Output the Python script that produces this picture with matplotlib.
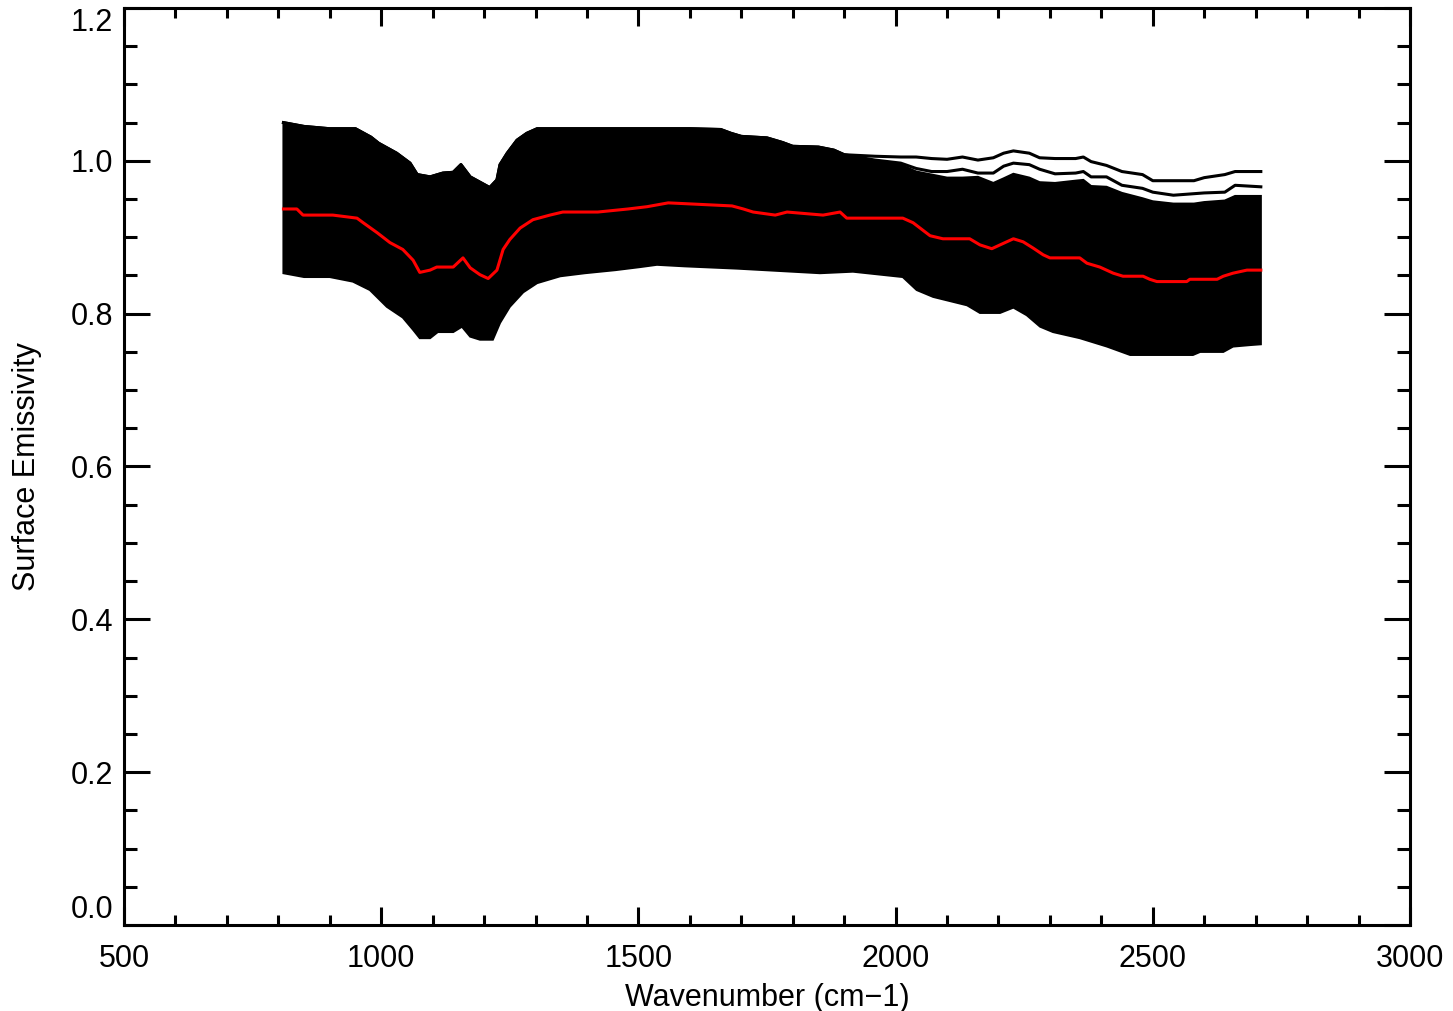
import numpy as np
import matplotlib
matplotlib.use('Agg')
import matplotlib.pyplot as plt

plt.rcParams['font.family'] = ['Liberation Sans', 'DejaVu Sans']

# upper envelope: outermost curve, next curve, top of the solid band
wn_up = [810, 850, 900, 950, 980, 995, 1030, 1056, 1070, 1095, 1120, 1140, 1155,
         1173, 1192, 1211, 1225, 1231, 1245, 1264, 1283, 1303, 1400, 1500, 1600,
         1660, 1680, 1700, 1750, 1780, 1800, 1850, 1880, 1900, 1960, 2010, 2040,
         2070, 2100, 2130, 2160, 2190, 2210, 2229, 2260, 2280, 2310, 2350, 2365,
         2380, 2410, 2440, 2480, 2500, 2540, 2580, 2600, 2640, 2660, 2710]
top1 = [1.050, 1.045, 1.042, 1.042, 1.031, 1.023, 1.010, 0.997, 0.982, 0.979, 0.984,
        0.985, 0.995, 0.979, 0.972, 0.965, 0.975, 0.995, 1.010, 1.027, 1.036, 1.042,
        1.042, 1.042, 1.042, 1.041, 1.036, 1.032, 1.030, 1.024, 1.019, 1.018, 1.014,
        1.008, 1.006, 1.005, 1.005, 1.003, 1.002, 1.005, 1.001, 1.004, 1.010, 1.013,
        1.010, 1.004, 1.003, 1.003, 1.005, 0.999, 0.994, 0.986, 0.982, 0.974, 0.974,
        0.974, 0.978, 0.982, 0.986, 0.986]
top2 = [1.050, 1.045, 1.042, 1.042, 1.031, 1.023, 1.010, 0.997, 0.982, 0.979, 0.984,
        0.985, 0.995, 0.979, 0.972, 0.965, 0.975, 0.995, 1.010, 1.027, 1.036, 1.042,
        1.042, 1.042, 1.042, 1.041, 1.036, 1.032, 1.030, 1.024, 1.019, 1.018, 1.014,
        1.008, 1.001, 0.997, 0.990, 0.986, 0.986, 0.989, 0.984, 0.984, 0.993, 0.997,
        0.995, 0.989, 0.983, 0.984, 0.986, 0.979, 0.979, 0.968, 0.964, 0.959, 0.955,
        0.957, 0.958, 0.959, 0.968, 0.966]
band_top = [1.050, 1.045, 1.042, 1.042, 1.031, 1.023, 1.010, 0.997, 0.982, 0.979, 0.984,
            0.985, 0.995, 0.979, 0.972, 0.965, 0.975, 0.995, 1.010, 1.027, 1.036, 1.042,
            1.042, 1.042, 1.042, 1.041, 1.036, 1.032, 1.030, 1.024, 1.019, 1.018, 1.014,
            1.008, 0.999, 0.995, 0.986, 0.982, 0.978, 0.978, 0.979, 0.971, 0.977, 0.983,
            0.978, 0.972, 0.971, 0.974, 0.975, 0.967, 0.966, 0.958, 0.951, 0.947, 0.944,
            0.944, 0.946, 0.948, 0.954, 0.954]

# lower envelope
wn_lo = [810, 850, 900, 945, 978, 1011, 1042, 1062, 1075, 1095, 1110, 1140, 1157,
         1173, 1192, 1217, 1231, 1250, 1276, 1303, 1348, 1396, 1455, 1503, 1536,
         1590, 1692, 1853, 1917, 2014, 2041, 2073, 2139, 2164, 2203, 2229, 2255,
         2281, 2306, 2358, 2411, 2456, 2578, 2592, 2637, 2656, 2690, 2710]
lower = [0.853, 0.848, 0.848, 0.842, 0.831, 0.809, 0.795, 0.779, 0.768, 0.768, 0.776,
         0.776, 0.783, 0.770, 0.766, 0.766, 0.788, 0.809, 0.828, 0.840, 0.849, 0.853,
         0.857, 0.861, 0.864, 0.862, 0.859, 0.853, 0.855, 0.848, 0.831, 0.822, 0.811,
         0.801, 0.801, 0.808, 0.798, 0.783, 0.776, 0.768, 0.757, 0.746, 0.746, 0.750,
         0.750, 0.757, 0.759, 0.760]

# mean emissivity (red)
wn_mean = [810, 836, 848, 906, 953, 965, 992, 1017, 1042, 1062, 1075, 1095, 1108,
           1140, 1159, 1173, 1192, 1208, 1225, 1237, 1250, 1270, 1295, 1328, 1353,
           1421, 1480, 1517, 1558, 1682, 1704, 1723, 1766, 1789, 1859, 1892, 1905,
           2014, 2034, 2067, 2092, 2144, 2164, 2187, 2203, 2229, 2248, 2267, 2287,
           2300, 2358, 2372, 2397, 2423, 2442, 2481, 2494, 2508, 2566, 2572, 2625,
           2637, 2656, 2683, 2710]
mean = [0.937, 0.937, 0.929, 0.929, 0.925, 0.919, 0.906, 0.893, 0.884, 0.870, 0.854,
        0.857, 0.861, 0.861, 0.873, 0.860, 0.851, 0.846, 0.857, 0.884, 0.897, 0.912,
        0.923, 0.929, 0.933, 0.933, 0.937, 0.940, 0.945, 0.941, 0.937, 0.933, 0.929,
        0.933, 0.929, 0.933, 0.925, 0.925, 0.919, 0.902, 0.898, 0.898, 0.890, 0.885,
        0.890, 0.898, 0.894, 0.886, 0.877, 0.873, 0.873, 0.866, 0.861, 0.853, 0.849,
        0.849, 0.845, 0.842, 0.842, 0.845, 0.845, 0.849, 0.853, 0.857, 0.857]

fig = plt.figure(figsize=(14.53, 10.11), dpi=100)
ax = fig.add_axes([124 / 1453, 1 - 925 / 1011, 1286 / 1453, 917 / 1011])

# solid band of the ensemble
poly_x = np.r_[wn_up, wn_lo[::-1]]
poly_y = np.r_[band_top, lower[::-1]]
ax.fill(poly_x, poly_y, color='black', lw=1.5, zorder=2)
ax.plot(wn_up, top1, color='black', lw=2.2, zorder=3)
ax.plot(wn_up, top2, color='black', lw=2.2, zorder=3)
ax.plot(wn_mean, mean, color='red', lw=2.2, zorder=4)

ax.set_xlim(500, 3000)
ax.set_ylim(0.0, 1.2)
ax.set_xticks(np.arange(500, 3001, 500))
ax.set_xticks(np.arange(500, 3001, 100), minor=True)
ax.set_yticks(np.arange(0, 1.21, 0.2))
ax.set_yticks(np.arange(0, 1.21, 0.05), minor=True)
ax.set_yticklabels(['0.0', '0.2', '0.4', '0.6', '0.8', '1.0', '1.2'])
ax.tick_params(which='both', direction='in', top=True, right=True, width=2.2,
               labelsize=22, colors='black')
ax.tick_params(axis='x', which='major', length=13, pad=14)
ax.tick_params(axis='x', which='minor', length=7)
ax.tick_params(axis='y', which='major', length=19, pad=8)
ax.tick_params(axis='y', which='minor', length=9.5)
for s in ax.spines.values():
    s.set_linewidth(2.2)

ylabs = ax.get_yticklabels()
ylabs[0].set_verticalalignment('bottom')
ylabs[-1].set_verticalalignment('top')

ax.set_xlabel('Wavenumber (cm\u22121)', fontsize=22, labelpad=6)
ax.set_ylabel('Surface Emissivity', fontsize=22, labelpad=20)

fig.savefig('out.png', dpi=100)
